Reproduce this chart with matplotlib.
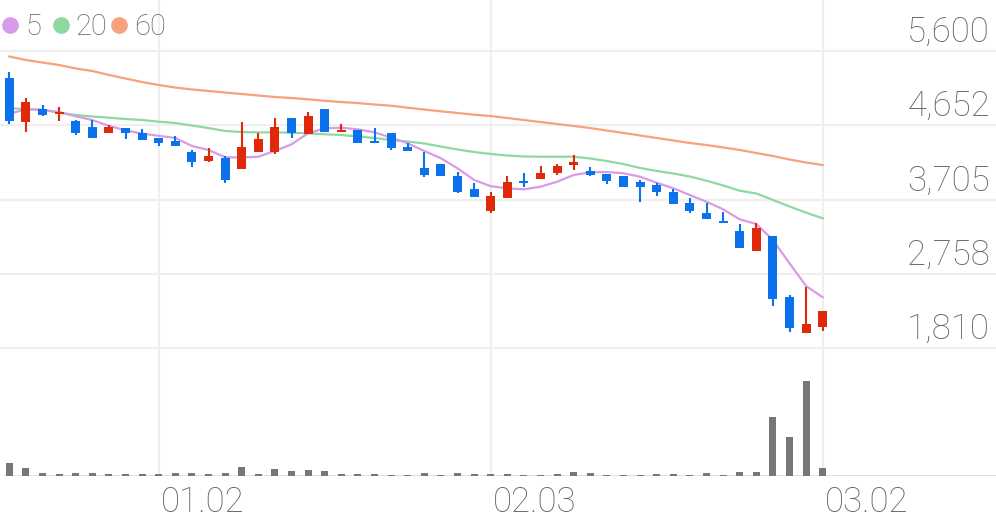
import numpy as np
import matplotlib
matplotlib.use("Agg")
import matplotlib.pyplot as plt
from matplotlib.lines import Line2D
import matplotlib.transforms as mtransforms

# ---------------- data ----------------
opens  = [5259, 4690, 4856, 4796, 4707, 4634, 4557, 4621, 4557, 4486,
          4455, 4315, 4196, 4231, 4094, 4315, 4315, 4749, 4541, 4860,
          4570, 4592, 4443, 4557, 4379, 4111, 4158, 4009, 3839, 3558,
          3720, 3932, 3967, 4047, 4145, 4069, 4030, 4005, 3932, 3890,
          3804, 3664, 3537, 3422, 3307, 3052, 3239, 2465, 1998, 2082]
highs  = [5328, 4996, 4911, 4889, 4719, 4719, 4656, 4621, 4601, 4486,
          4519, 4337, 4358, 4260, 4690, 4550, 4749, 4749, 4818, 4860,
          4665, 4592, 4614, 4557, 4422, 4307, 4158, 4060, 3919, 3797,
          4005, 4039, 4132, 4158, 4273, 4124, 4030, 4005, 3954, 3912,
          3835, 3728, 3656, 3549, 3388, 3401, 3239, 2490, 2592, 2286]
lows   = [4665, 4570, 4770, 4707, 4528, 4494, 4550, 4477, 4464, 4388,
          4388, 4124, 4187, 3912, 4094, 4315, 4286, 4494, 4541, 4570,
          4570, 4430, 4422, 4337, 4328, 3988, 4005, 3792, 3733, 3529,
          3720, 3868, 3967, 4018, 4081, 4005, 3903, 3868, 3677, 3750,
          3648, 3537, 3456, 3401, 3082, 3052, 2346, 2018, 1998, 2031]
closes = [4707, 4945, 4783, 4825, 4557, 4494, 4626, 4550, 4464, 4430,
          4388, 4187, 4264, 3954, 4371, 4473, 4634, 4550, 4774, 4570,
          4596, 4430, 4422, 4366, 4328, 4018, 4005, 3804, 3733, 3753,
          3924, 3912, 4039, 4136, 4187, 4018, 3945, 3868, 3868, 3804,
          3648, 3558, 3456, 3401, 3082, 3345, 2431, 2061, 2112, 2286]
volumes = [13, 8, 3.3, 2.3, 3, 3.3, 1.7, 1.7, 2, 1.7,
           2.7, 2.7, 2, 3.3, 9, 2.3, 7, 5, 6.3, 5,
           2, 1.7, 1.7, 1, 0.7, 2.7, 1, 2.7, 2, 2,
           2, 1.3, 0.7, 1.7, 4.3, 3, 1.3, 1.3, 1.3, 1.7,
           1.7, 1.3, 2.7, 1, 4.3, 4.3, 57.7, 38, 93.7, 8]
volumes = [v * 50000 for v in volumes]

ma5  = [4799, 4856, 4851, 4819, 4767, 4719, 4645, 4588, 4545, 4518,
        4490, 4388, 4337, 4245, 4241, 4251, 4324, 4409, 4550, 4614,
        4621, 4601, 4562, 4494, 4422, 4324, 4231, 4103, 3954, 3875,
        3848, 3835, 3868, 3932, 4018, 4052, 4056, 4039, 3996, 3919,
        3848, 3762, 3677, 3580, 3452, 3392, 3188, 2891, 2601, 2457]
ma20 = [4869, 4860, 4847, 4815, 4783, 4764, 4749, 4732, 4719, 4698,
        4681, 4649, 4617, 4579, 4566, 4562, 4562, 4557, 4550, 4537,
        4528, 4509, 4490, 4464, 4445, 4420, 4381, 4343, 4311, 4286,
        4266, 4254, 4251, 4251, 4251, 4228, 4196, 4158, 4107, 4069,
        4037, 3998, 3945, 3884, 3817, 3782, 3699, 3616, 3537, 3465]
ma60 = [5530, 5485, 5453, 5421, 5377, 5345, 5294, 5249, 5204, 5166,
        5134, 5109, 5090, 5070, 5051, 5032, 5013, 5000, 4984, 4964,
        4949, 4936, 4917, 4902, 4876, 4853, 4830, 4809, 4787, 4770,
        4745, 4719, 4694, 4668, 4643, 4617, 4585, 4554, 4522, 4490,
        4458, 4426, 4400, 4369, 4337, 4298, 4260, 4215, 4177, 4145]

price_ticks = [5600, 4652, 3705, 2758, 1810]
price_labels = ["5,600", "4,652", "3,705", "2,758", "1,810"]
date_idx = [9, 29, 49]
date_labels = ["01.02", "02.03", "03.02"]
legend_labels = ["5", "20", "60"]

# ---------------- style ----------------
RED = "#e0290b"
BLUE = "#0a72ea"
C5, C20, C60 = "#d89be9", "#8ed9a2", "#f7a27c"
GRID = "#efefef"
TXT = "#666666"
FONT = "Roboto"

W, H = 996, 519
fig = plt.figure(figsize=(W / 100, H / 100), dpi=100)
fig.patch.set_facecolor("white")

plot_bottom_px = 476
ax = fig.add_axes([0, (H - plot_bottom_px) / H, 1, plot_bottom_px / H])
n = len(closes)
x = np.arange(n)
step_px = 16.6
x0_px = 9.3
ax.set_xlim(-x0_px / step_px, (W - x0_px) / step_px)
# price scale: 5600 at y=51px, 1810 at y=348px
ppx = (5600 - 1810) / (348 - 51)
ax.set_ylim(5600 - (plot_bottom_px - 51) * ppx, 5600 + 51 * ppx)
ax.axis("off")

# volume axis
axv = ax.twinx()
axv.set_ylim(0, max(volumes) * plot_bottom_px / 95)
axv.axis("off")
axv.bar(x, volumes, width=0.42, color="#777777", zorder=2)

# grid
for t in price_ticks:
    ax.axhline(t, color=GRID, lw=1.6, zorder=0)
for i in date_idx:
    ax.axvline(i, color=GRID, lw=1.6, zorder=0)
axv.axhline(0, color="#dddddd", lw=2.0, xmin=5 / W, zorder=1)

# MA lines
ax.plot(x, ma60, color=C60, lw=1.6, zorder=3)
ax.plot(x, ma20, color=C20, lw=1.6, zorder=3)
ax.plot(x, ma5, color=C5, lw=1.6, zorder=3)

# candles
o = np.array(opens, float); c = np.array(closes, float)
hi = np.array(highs, float); lo = np.array(lows, float)
up = c >= o
cols = np.where(up, RED, BLUE)
bottom = np.minimum(o, c)
height = np.maximum(np.abs(c - o), 2 * ppx)
ax.vlines(x, lo, hi, colors=cols, lw=1.5, zorder=4)
ax.bar(x, height, bottom=bottom, width=0.54, color=cols, zorder=5)

# y labels
for t, lab in zip(price_ticks, price_labels):
    tr = mtransforms.offset_copy(ax.get_yaxis_transform(), fig=fig, x=0, y=9, units="dots")
    ax.text(990 / W, t, lab, transform=tr, ha="right", va="baseline",
            fontsize=25, color=TXT, family=FONT, fontweight="light")

# x labels
for i, lab in zip(date_idx, date_labels):
    tr = mtransforms.offset_copy(ax.get_xaxis_transform(), fig=fig, x=2, y=-36, units="dots")
    ax.text(i, 0, lab, transform=tr, ha="left", va="baseline",
            fontsize=25, color=TXT, family=FONT, fontweight="light")

# legend
leg_x = [10, 61, 119]
txt_x = [25, 75, 134]
for lx, tx, col, lab in zip(leg_x, txt_x, [C5, C20, C60], legend_labels):
    fig.add_artist(Line2D([lx / W], [1 - 25 / H], marker="o", markersize=11,
                          color=col, transform=fig.transFigure, linestyle="none"))
    fig.text(tx / W, 1 - 35 / H, lab, ha="left", va="baseline",
             fontsize=21, color=TXT, family=FONT, fontweight="light")

fig.savefig("out.png", dpi=100, facecolor="white")
